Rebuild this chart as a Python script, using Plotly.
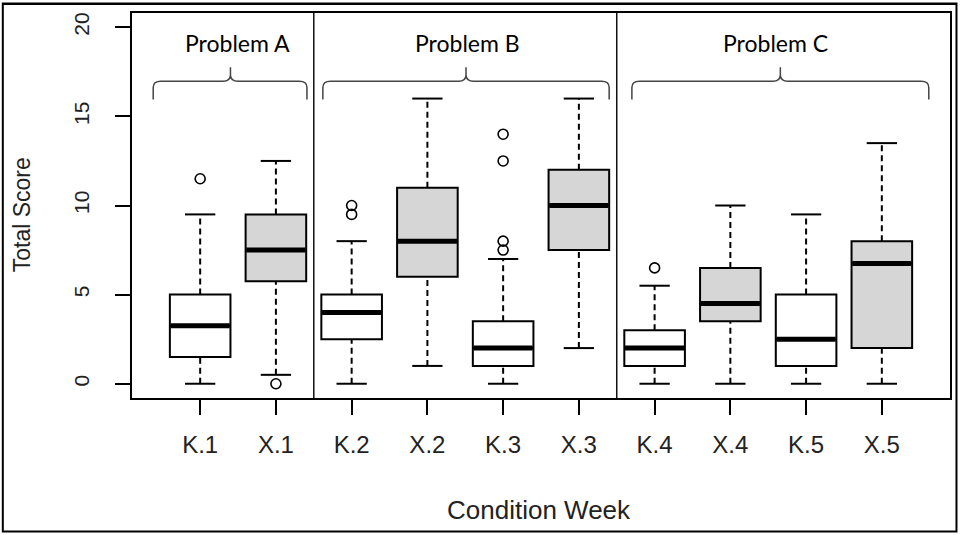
import plotly.graph_objects as go

# ---- data ----
categories = ["K.1", "X.1", "K.2", "X.2", "K.3", "X.3", "K.4", "X.4", "K.5", "X.5"]
whisker_low = [0, 0.5, 0, 1, 0, 2, 0, 0, 0, 0]
q1 = [1.5, 5.75, 2.5, 6, 1, 7.5, 1, 3.5, 1, 2]
median = [3.25, 7.5, 4, 8, 2, 10, 2, 4.5, 2.5, 6.75]
q3 = [5, 9.5, 5, 11, 3.5, 12, 3, 6.5, 5, 8]
whisker_high = [9.5, 12.5, 8, 16, 7, 16, 5.5, 10, 9.5, 13.5]
outlier_cat = ["K.1", "X.1", "K.2", "K.2", "K.3", "K.3", "K.3", "K.3", "K.4"]
outlier_val = [11.5, 0, 9.5, 10, 7.5, 8, 12.5, 14, 6.5]

problem_labels = ["Problem A", "Problem B", "Problem C"]
problem_label_x = [1.49, 4.53, 8.6]
brace_left = [0.38, 2.62, 6.70]
brace_right = [2.41, 6.40, 10.62]
brace_tip = [1.40, 4.51, 8.66]
separators = [2.5, 6.5]

y_ticks = [0, 5, 10, 15, 20]

# ---- styling ----
BOX_HALF = 0.4
CAP_HALF = 0.2
TEXT = "#222222"
pos = list(range(1, len(categories) + 1))
pos_of = {c: p for c, p in zip(categories, pos)}

fig = go.Figure()

for prefix, fill in [("K", "white"), ("X", "#d6d6d6")]:
    idx = [i for i, c in enumerate(categories) if c.startswith(prefix)]
    fig.add_trace(go.Box(
        x=[pos[i] for i in idx],
        q1=[q1[i] for i in idx],
        median=[median[i] for i in idx],
        q3=[q3[i] for i in idx],
        lowerfence=[q1[i] for i in idx],
        upperfence=[q3[i] for i in idx],
        width=2 * BOX_HALF,
        whiskerwidth=0,
        fillcolor=fill,
        line=dict(color="black", width=2),
        boxpoints=False,
        showlegend=False,
        hoverinfo="skip",
    ))

# dashed whiskers
wx, wy = [], []
for p, lo, a, b, hi in zip(pos, whisker_low, q1, q3, whisker_high):
    wx += [p, p, None, p, p, None]
    wy += [lo, a, None, b, hi, None]
fig.add_trace(go.Scatter(x=wx, y=wy, mode="lines",
                         line=dict(color="black", width=2, dash="6px,4px"),
                         showlegend=False, hoverinfo="skip"))

# whisker caps
cx, cy = [], []
for p, lo, hi in zip(pos, whisker_low, whisker_high):
    cx += [p - CAP_HALF, p + CAP_HALF, None, p - CAP_HALF, p + CAP_HALF, None]
    cy += [lo, lo, None, hi, hi, None]
fig.add_trace(go.Scatter(x=cx, y=cy, mode="lines",
                         line=dict(color="black", width=2),
                         showlegend=False, hoverinfo="skip"))

# thick medians
mx, my = [], []
for p, m in zip(pos, median):
    mx += [p - BOX_HALF + 0.01, p + BOX_HALF - 0.01, None]
    my += [m, m, None]
fig.add_trace(go.Scatter(x=mx, y=my, mode="lines",
                         line=dict(color="black", width=5),
                         showlegend=False, hoverinfo="skip"))

# outliers
fig.add_trace(go.Scatter(x=[pos_of[c] for c in outlier_cat], y=outlier_val,
                         mode="markers",
                         marker=dict(symbol="circle-open", size=10, color="black",
                                     line=dict(width=1.6, color="black")),
                         showlegend=False, hoverinfo="skip"))

shapes = []
for s in separators:
    shapes.append(dict(type="line", xref="x", yref="paper", x0=s, x1=s, y0=0, y1=1,
                       line=dict(color="#111111", width=1.5)))

# braces
rx, ry = 0.1, 0.35
yb, yh, yt = 15.95, 16.97, 17.75
for L, R, C in zip(brace_left, brace_right, brace_tip):
    path = (f"M {L},{yb} L {L},{yh - ry} Q {L},{yh} {L + rx},{yh} "
            f"L {C - rx},{yh} Q {C},{yh} {C},{yh + ry} L {C},{yt} "
            f"M {C},{yh + ry} Q {C},{yh} {C + rx},{yh} "
            f"L {R - rx},{yh} Q {R},{yh} {R},{yh - ry} L {R},{yb}")
    shapes.append(dict(type="path", xref="x", yref="y", path=path,
                       line=dict(color="#444444", width=1.5)))

# outer border of the picture
L_M, R_M, T_M, B_M = 132, 11, 13, 137
PW, PH = 963 - L_M - R_M, 535 - T_M - B_M
def px_x(v):
    return (v - L_M) / PW
def px_y(v):
    return (535 - B_M - v) / PH
shapes.append(dict(type="rect", xref="paper", yref="paper",
                   x0=px_x(2.5), x1=px_x(958.5), y0=px_y(531.5), y1=px_y(3.5),
                   line=dict(color="black", width=2), layer="above"))
shapes.append(dict(type="line", xref="paper", yref="paper",
                   x0=px_x(2.5), x1=px_x(958.5), y0=px_y(4), y1=px_y(4),
                   line=dict(color="black", width=2), layer="above"))

annotations = []
for lab, x in zip(problem_labels, problem_label_x):
    annotations.append(dict(x=x, y=19.1, xref="x", yref="y", text=lab, showarrow=False,
                            xanchor="center", yanchor="middle",
                            font=dict(family="Lato", size=23, color="black")))
annotations.append(dict(x=px_x(540), y=px_y(510), xref="paper", yref="paper",
                        text="Condition Week", showarrow=False,
                        xanchor="center", yanchor="middle",
                        font=dict(family="Liberation Sans", size=26, color=TEXT)))
annotations.append(dict(x=px_x(22), y=px_y(215), xref="paper", yref="paper",
                        text="Total Score", showarrow=False, textangle=-90,
                        xanchor="center", yanchor="middle",
                        font=dict(family="Liberation Sans", size=23, color=TEXT)))

fig.update_layout(
    width=963, height=535,
    margin=dict(l=L_M, r=R_M, t=T_M, b=B_M),
    paper_bgcolor="white", plot_bgcolor="white",
    boxmode="overlay",
    shapes=shapes,
    annotations=annotations,
    xaxis=dict(range=[0.1, 10.9], tickvals=pos, ticktext=categories,
               showgrid=False, zeroline=False, showline=True, mirror=True,
               linecolor="black", linewidth=2,
               ticks="outside", ticklen=15, tickwidth=2, tickcolor="black",
               ticklabelstandoff=9,
               tickfont=dict(family="Liberation Sans", size=24, color=TEXT)),
    yaxis=dict(range=[-0.8, 20.8], tickvals=y_ticks,
               showgrid=False, zeroline=False, showline=True, mirror=True,
               linecolor="black", linewidth=2,
               ticks="outside", ticklen=15, tickwidth=2, tickcolor="black",
               tickangle=-90, ticklabelstandoff=18,
               tickfont=dict(family="Liberation Sans", size=21, color=TEXT)),
)

fig.write_html("out.html", config={"displayModeBar": False},
               post_script="document.body.style.margin='0';document.body.style.overflow='hidden';")
